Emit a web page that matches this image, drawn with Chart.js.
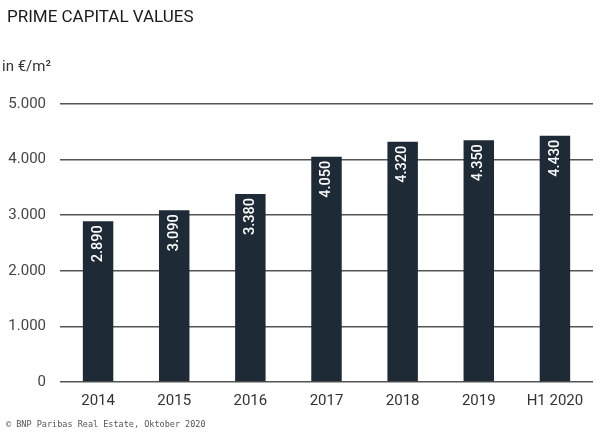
<!DOCTYPE html>
<html>
<head>
<meta charset="utf-8">
<script src="https://cdn.jsdelivr.net/npm/chart.js@4"></script>
<style>
  html, body { margin: 0; padding: 0; background: #fff; }
  #wrap { width: 600px; height: 442px; position: relative; }
</style>
</head>
<body>
<div id="wrap"><canvas id="bars"></canvas></div>
<script>
const categories = ['2014', '2015', '2016', '2017', '2018', '2019', 'H1 2020'];
const values = [2890, 3090, 3380, 4050, 4320, 4350, 4430];
const yTicks = [0, 1000, 2000, 3000, 4000, 5000];

const title = 'PRIME CAPITAL VALUES';
const unit = 'in €/m²';
const source = '© BNP Paribas Real Estate, Oktober 2020';

const fmt = v => v.toLocaleString('de-DE');

// texts around the plot + rotated value labels inside the bars
const extras = {
    id: 'extras',
    afterDatasetsDraw(chart) {
        const ctx = chart.ctx;
        const meta = chart.getDatasetMeta(0);
        ctx.save();
        ctx.fillStyle = '#ffffff';
        ctx.font = '500 14.5px Roboto';
        ctx.textAlign = 'right';
        ctx.textBaseline = 'middle';
        meta.data.forEach((bar, i) => {
            ctx.save();
            ctx.translate(bar.x, bar.y + 4);
            ctx.rotate(-Math.PI / 2);
            ctx.fillText(fmt(values[i]), 0, 0);
            ctx.restore();
        });
        ctx.restore();
    },
    afterDraw(chart) {
        const ctx = chart.ctx;
        ctx.save();
        ctx.textBaseline = 'middle';
        ctx.textAlign = 'left';
        ctx.fillStyle = '#1a1a1a';
        ctx.font = '17px Roboto';
        ctx.fillText(title, 7, 18);
        ctx.fillStyle = '#333';
        ctx.font = '15px Roboto';
        ctx.fillText(unit, 2, 67);
        ctx.fillStyle = '#555';
        ctx.font = '8.5px "DejaVu Sans Mono"';
        ctx.fillText(source, 6, 425);
        ctx.restore();
    }
};

new Chart(document.getElementById('bars'), {
    type: 'bar',
    data: {
        labels: categories,
        datasets: [{
            data: values,
            backgroundColor: '#1e2a35',
            barPercentage: 0.4,
            categoryPercentage: 1
        }]
    },
    options: {
        responsive: true,
        maintainAspectRatio: false,
        animation: false,
        layout: { padding: { top: 104, right: 7, left: 0, bottom: 0 } },
        plugins: { legend: { display: false }, tooltip: { enabled: false } },
        scales: {
            x: {
                grid: { display: false, drawTicks: false },
                border: { display: false },
                ticks: { color: '#333', font: { family: 'Roboto', size: 15 }, padding: 10 },
                afterFit(scale) { scale.height = 60; }
            },
            y: {
                min: 0,
                max: 5000,
                afterBuildTicks(scale) { scale.ticks = yTicks.map(v => ({ value: v })); },
                grid: { color: '#555', lineWidth: 1.5, drawTicks: false },
                border: { display: false },
                ticks: {
                    color: '#444',
                    font: { family: 'Roboto', size: 15 },
                    padding: 14,
                    callback: v => fmt(v)
                },
                afterFit(scale) { scale.width = 60; }
            }
        }
    },
    plugins: [extras]
});
</script>
</body>
</html>
